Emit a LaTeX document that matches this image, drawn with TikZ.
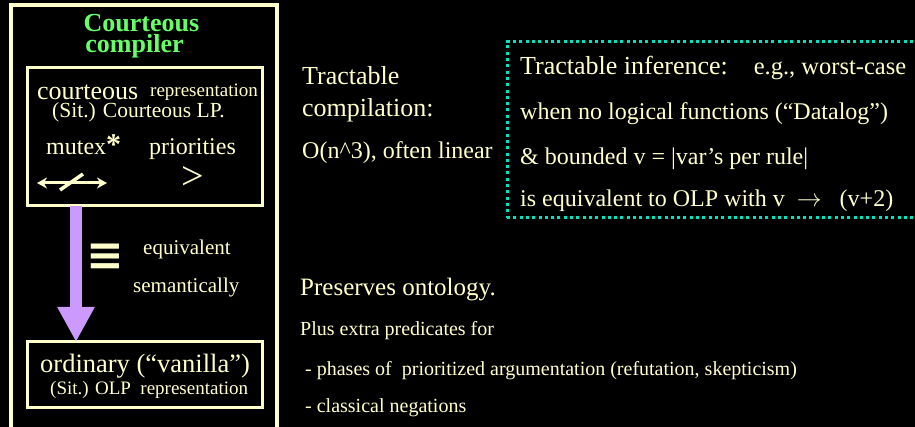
\documentclass[tikz,border=0pt]{standalone}
\usepackage{fontspec}
\setmainfont{Liberation Serif}
\newfontfamily\symboles{DejaVu Sans}
\usepackage{tikz}
\usetikzlibrary{positioning}
\usetikzlibrary{arrows.meta}
\definecolor{creme}{RGB}{255,255,204}
\definecolor{vertclair}{RGB}{102,255,102}
\definecolor{mauve}{RGB}{204,153,255}
\definecolor{turquoise}{RGB}{0,229,192}
\newcommand{\taille}[1]{\fontsize{#1}{#1}\selectfont}

\begin{document}
\begin{tikzpicture}[x=1pt,y=-1pt]
% définition des paramètres
\tikzstyle textecreme=[text=creme,inner sep=0pt,anchor=base west]
\tikzstyle titrevert=[text=vertclair,inner sep=0pt,anchor=base,font=\bfseries\taille{26}]
\tikzstyle boitecreme=[draw=creme,line width=3pt,outer sep=0pt,inner sep=0pt,anchor=north west]
\tikzstyle cadrepointille=[draw=turquoise,line width=3pt,dash pattern=on 3pt off 3.3pt,outer sep=0pt,inner sep=0pt,anchor=north west]
\tikzstyle flechemauve=[draw=mauve,line width=12pt,-{Triangle[length=35pt,width=35pt]}]
\tikzstyle flechecreme=[draw=creme,line width=3pt,{Stealth[length=10pt,width=11pt]}-{Stealth[length=10pt,width=11pt]}]

% le fond
\useasboundingbox (0,0) rectangle (915,427);
\fill[black] (0,0) rectangle (915,427);
\clip (0,0) rectangle (915,427);

% les cadres
\node[boitecreme,line width=4pt,minimum width=266pt,minimum height=440pt] (compilateur) at (11,5) {};
\node[boitecreme,minimum width=235pt,minimum height=138pt] (courtois) at (27,68) {};
\node[boitecreme,minimum width=235pt,minimum height=65pt] (ordinaire) at (27,342) {};
\node[cadrepointille,minimum width=430pt,minimum height=176pt] (inference) at (507,42) {};

% le compilateur
\node[titrevert] (titre) at (141.5,32) {Courteous};
\node[titrevert] (soustitre) at (134.5,53) {compiler};
\node[textecreme,font=\taille{26}] (courteous) at (37,100) {courteous};
\node[textecreme,font=\taille{19}] (repr) at (150,97) {representation};
\node[textecreme,font=\taille{21.5}] (sitcourt) at (52,118) {(Sit.) Courteous LP.};
\node[textecreme,font=\taille{24}] (mutex) at (46,155) {mutex{\bfseries\taille{30}*}};
\node[textecreme,font=\taille{24}] (priorites) at (149,155) {priorities};
\node[textecreme,font=\taille{40},anchor=center] (superieur) at (193,178) {>};
\coordinate (mutexg) at (37,183);
\coordinate (mutexd) at (107,183);
\draw[flechecreme] (mutexg) -- (mutexd);
\draw[creme,line width=3.5pt] (60,190) -- (83,174);

% la flèche
\draw[flechemauve] ([xshift=49pt]courtois.south west) -- ([xshift=49pt]ordinaire.north west);
\node[text=creme,inner sep=0pt,anchor=center,font=\symboles\bfseries\taille{45}] (equiv) at (105,257.5) {≡};
\node[textecreme,font=\taille{21}] (equivalent) at (143,255) {equivalent};
\node[textecreme,font=\taille{21}] (semant) at (133,293) {semantically};
\node[textecreme,font=\taille{26.5}] (ordinary) at (40,372) {ordinary (“vanilla”)};
\node[textecreme,font=\taille{19}] (sitolp) at (50,394) {(Sit.) OLP~~representation};

% compilation
\node[textecreme,font=\taille{26}] (tract) at (302,85) {Tractable};
\node[textecreme,font=\taille{26}] (compil) at (302,117) {compilation:};
\node[textecreme,font=\taille{24}] (complexite) at (302,159) {O(n\textasciicircum3), often linear};

% l'inférence
\node[textecreme] (infer) at (520,75) {{\taille{26}Tractable inference:}\hspace{26pt}{\taille{24.5}e.g., worst-case}};
\foreach \y/\nom/\texte in {120/datalog/{when no logical functions (“Datalog”)},
                            165/borne/{\& bounded v = |var’s per rule|},
                            207/olp/{is equivalent to OLP with v~~$\rightarrow$~~~(v+2)}}
    \node[textecreme,font=\taille{24}] (\nom) at (520,\y) {\texte};

% l'ontologie
\node[textecreme,font=\taille{25}] (ontologie) at (300,296) {Preserves ontology.};
\foreach \x/\y/\nom/\texte in {300/336/plus/{Plus extra predicates for},
                               305/375/phases/{- phases of~~prioritized argumentation (refutation, skepticism)},
                               305/412/negations/{- classical negations}}
    \node[textecreme,font=\taille{20}] (\nom) at (\x,\y) {\texte};
\end{tikzpicture}
\end{document}
